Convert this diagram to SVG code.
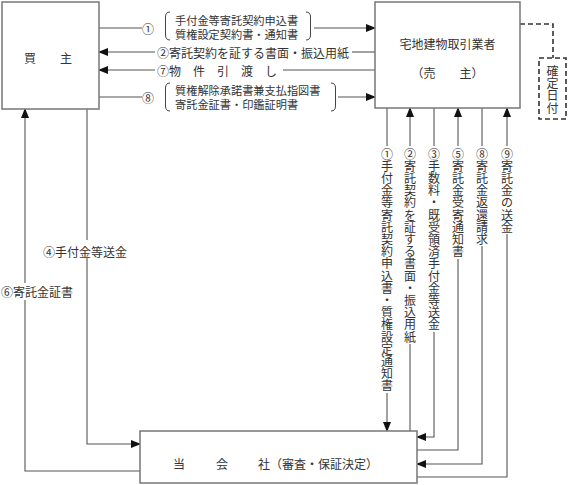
<svg xmlns="http://www.w3.org/2000/svg" width="568" height="485" viewBox="0 0 568 485">
<defs>
<marker id="ah" markerUnits="userSpaceOnUse" markerWidth="10" markerHeight="8" refX="9" refY="4" orient="auto">
<path d="M0,0 L10,4 L0,8 Z" fill="#111"/>
</marker>
<style>
text{font-family:"Noto Sans CJK JP","Noto Sans CJK SC",sans-serif;fill:#333;font-size:12px;dominant-baseline:central}
.sm{font-size:11.2px}
.v{text-anchor:middle}
.box{fill:#fff;stroke:#777;stroke-width:1.5}
.ln{fill:none;stroke:#555;stroke-width:1.1}
.arr{marker-end:url(#ah)}
.br{fill:none;stroke:#444;stroke-width:1}
.dash{fill:none;stroke:#333;stroke-width:1.6;stroke-dasharray:5 3}
</style>
</defs>
<rect width="568" height="485" fill="#fff"/>

<g id="connectors">
<path class="ln" d="M99,28 H142"/>
<path class="ln arr" d="M314,28 H375"/>
<path class="ln" d="M375,52 H352"/>
<path class="ln arr" d="M155,52 H99"/>
<path class="ln" d="M375,70 H283"/>
<path class="ln arr" d="M155,70 H99"/>
<path class="ln" d="M99,97 H142"/>
<path class="ln arr" d="M338,97 H375"/>
<path class="ln" d="M87,109 V240"/>
<path class="ln arr" d="M87,258 V444 H140"/>
<path class="ln" d="M140,471 H25 V300"/>
<path class="ln arr" d="M25,283 V109"/>
<path class="ln" d="M387,108 V146"/>
<path class="ln arr" d="M387,393 V431"/>
<path class="ln" d="M410,431 V344"/>
<path class="ln arr" d="M410,146 V108"/>
<path class="ln" d="M434,108 V146"/>
<path class="ln arr" d="M434,332 V437 H417"/>
<path class="ln" d="M417,450 H458 V259"/>
<path class="ln arr" d="M458,146 V108"/>
<path class="ln" d="M482,108 V146"/>
<path class="ln arr" d="M482,246 V464 H417"/>
<path class="ln" d="M417,477 H507 V234"/>
<path class="ln arr" d="M507,146 V108"/>
<path class="dash" d="M520,24 H553 V58"/>
<path class="br" d="M170,12 Q165.5,12 165.5,17 V35 Q165.5,40 170,40"/>
<path class="br" d="M306,12 Q310.5,12 310.5,17 V35 Q310.5,40 306,40"/>
<path class="br" d="M170,83 Q165.5,83 165.5,88 V106 Q165.5,111 170,111"/>
<path class="br" d="M331,83 Q335.5,83 335.5,88 V106 Q335.5,111 331,111"/>
</g>

<g id="buyer">
<rect class="box" x="2" y="2" width="97" height="107"/>
<text x="24" y="57">買　　主</text>
</g>

<g id="seller">
<rect class="box" x="375" y="2" width="145" height="106"/>
<text x="447.5" y="43" text-anchor="middle">宅地建物取引業者</text>
<text x="447.5" y="72" text-anchor="middle">（売　　主）</text>
</g>

<g id="date">
<rect class="dash" x="539" y="58" width="27" height="61"/>
<text class="v" x="552.5 552.5 552.5 552.5" y="70 82.3 94.6 107">確定日付</text>
</g>

<g id="company">
<rect class="box" x="140" y="431" width="277" height="52"/>
<text x="179" y="463" text-anchor="middle">当</text>
<text x="222" y="463" text-anchor="middle">会</text>
<text x="258" y="463">社（審査・保証決定）</text>
</g>

<g id="labels">
<text x="142" y="28">①</text>
<text class="sm" x="175" y="19.5">手付金等寄託契約申込書</text>
<text class="sm" x="175" y="34">質権設定契約書・通知書</text>
<text x="157" y="52">②寄託契約を証する書面・振込用紙</text>
<text x="157" y="70">⑦物　件　引　渡　し</text>
<text x="142" y="97">⑧</text>
<text class="sm" x="175" y="89.5">質権解除承諾書兼支払指図書</text>
<text class="sm" x="175" y="104">寄託金証書・印鑑証明書</text>
<text x="43" y="251">④手付金等送金</text>
<text x="1" y="291">⑥寄託金証書</text>
<text class="v" x="387 387 387 387 387 387 387 387 387 387 387 387 387 387 387 387 387 387 387 387" y="153 165.2 177.4 189.6 201.8 214 226.2 238.4 250.6 262.8 275 287.2 299.4 311.6 323.8 336 348.2 360.4 372.6 384.8">①手付金等寄託契約申込書・質権設定通知書</text>
<text class="v" x="410 410 410 410 410 410 410 410 410 410 410 410 410 410 410 410" y="153 165.2 177.4 189.6 201.8 214 226.2 238.4 250.6 262.8 275 287.2 299.4 311.6 323.8 336">②寄託契約を証する書面・振込用紙</text>
<text class="v" x="434 434 434 434 434 434 434 434 434 434 434 434 434 434 434" y="153 165.2 177.4 189.6 201.8 214 226.2 238.4 250.6 262.8 275 287.2 299.4 311.6 323.8">③手数料・既受領済手付金等送金</text>
<text class="v" x="458 458 458 458 458 458 458 458 458" y="153 165.2 177.4 189.6 201.8 214 226.2 238.4 250.6">⑤寄託金受寄通知書</text>
<text class="v" x="482 482 482 482 482 482 482 482" y="153 165.2 177.4 189.6 201.8 214 226.2 238.4">⑧寄託金返還請求</text>
<text class="v" x="507 507 507 507 507 507 507" y="153 165.2 177.4 189.6 201.8 214 226.2">⑨寄託金の送金</text>
</g>
</svg>
